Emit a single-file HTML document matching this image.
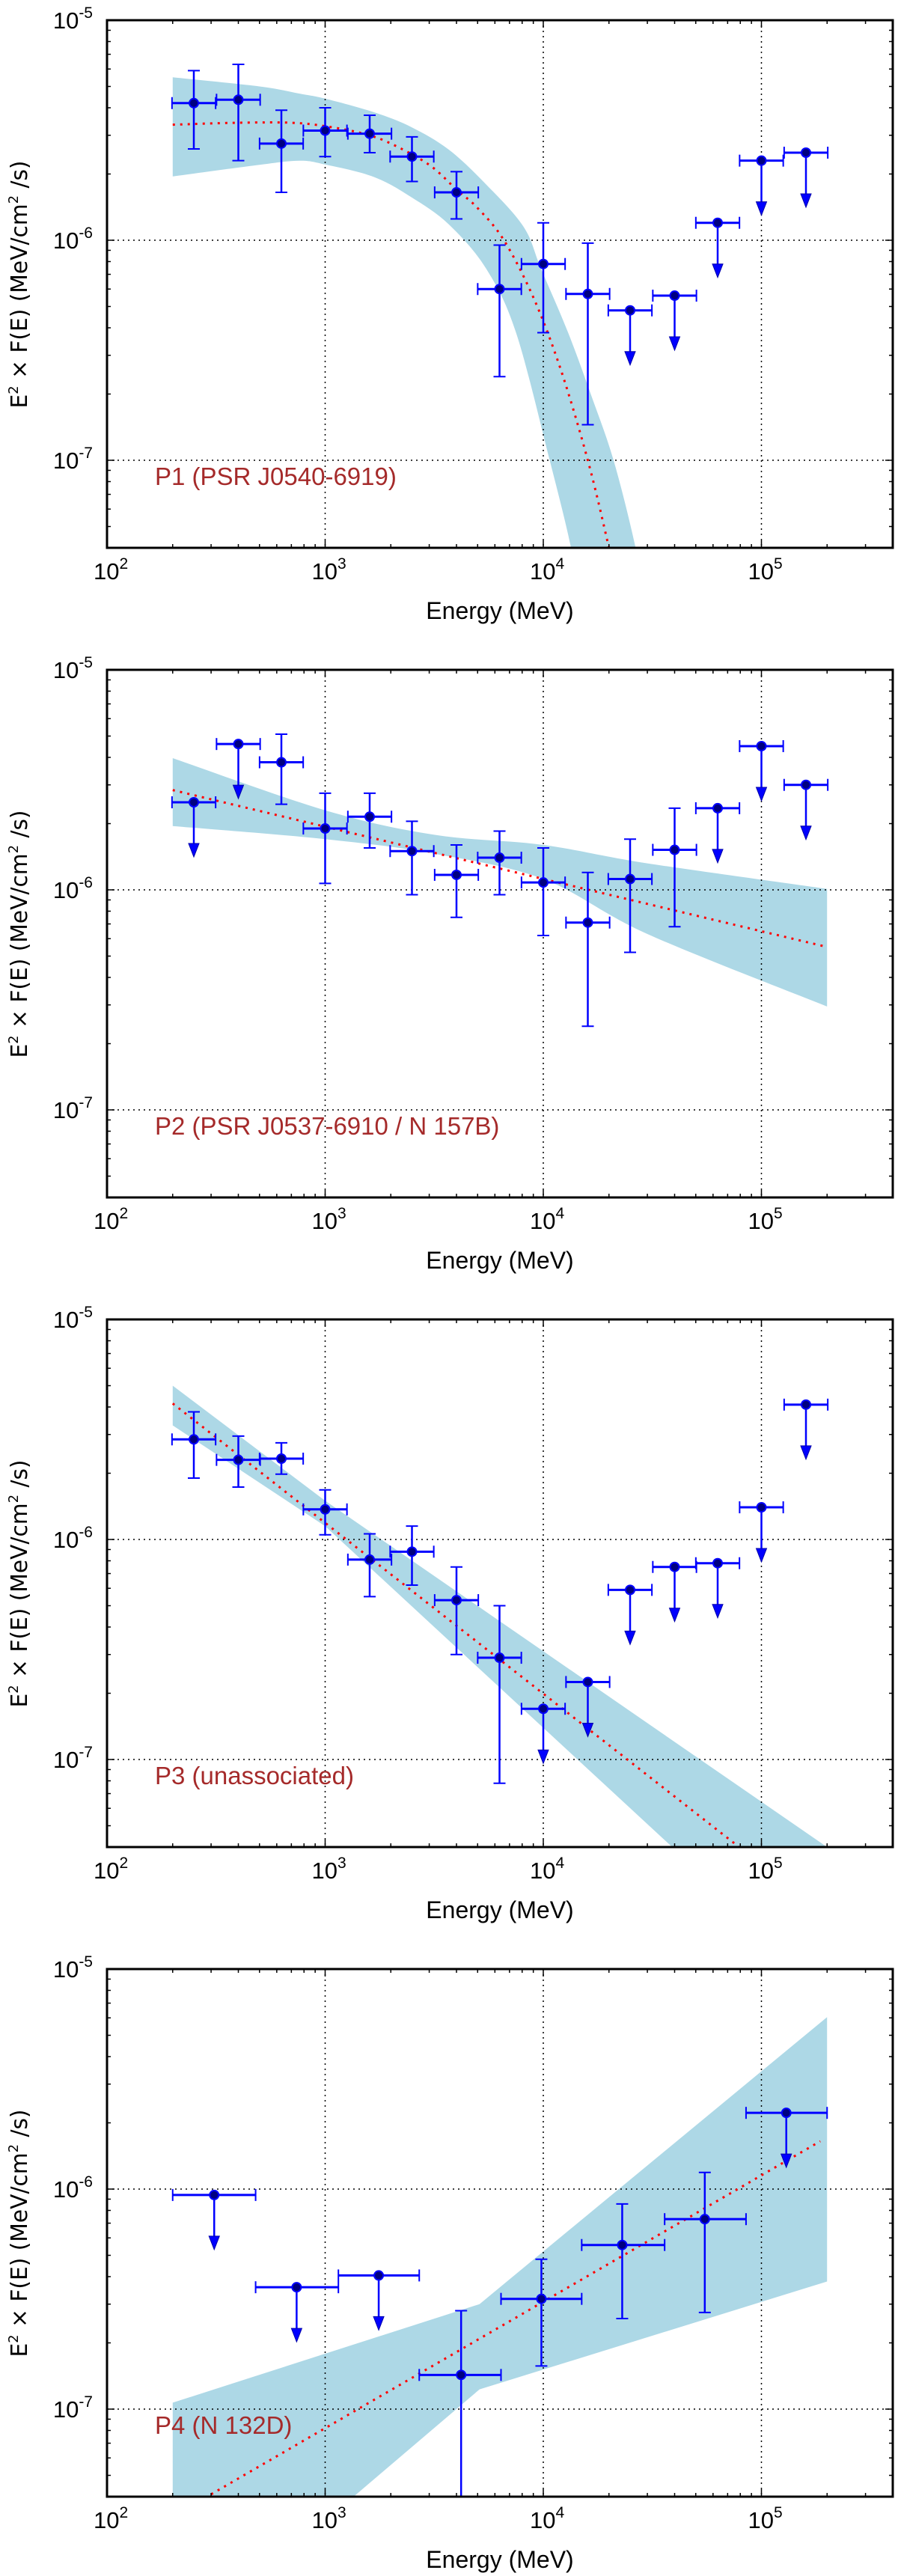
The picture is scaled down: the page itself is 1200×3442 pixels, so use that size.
<!DOCTYPE html>
<html><head><meta charset="utf-8"><style>
html,body{margin:0;padding:0;background:#fff;}
svg{display:block;}
</style></head><body>
<svg id="fig" width="1200" height="3442" viewBox="0 0 1200 3442" xmlns="http://www.w3.org/2000/svg"></svg>
<script>
// ---- shared bins ----
const binE = [250,400,630,1000,1600,2500,4000,6300,10000,16000,25000,40000,63000,100000,160000];
const yTickLabels = ["-5","-6","-7"];
const xTickLabels = ["2","3","4","5"];

// ---- P1 ----
const p1Flux = [4.2e-6,4.35e-6,2.75e-6,3.15e-6,3.05e-6,2.4e-6,1.65e-6,6.0e-7,7.8e-7,5.7e-7,4.8e-7,5.6e-7,1.2e-6,2.3e-6,2.5e-6];
const p1Lo = [2.6e-6,2.3e-6,1.65e-6,2.4e-6,2.5e-6,1.85e-6,1.25e-6,2.4e-7,3.8e-7,1.45e-7,null,null,null,null,null];
const p1Hi = [5.9e-6,6.3e-6,3.9e-6,4.0e-6,3.7e-6,2.95e-6,2.05e-6,9.5e-7,1.2e-6,9.7e-7,null,null,null,null,null];
const p1ModelE = [200,400,700,1000,1500,2000,3000,4000,5000,6600,9000,12000,16000,20000,22000];
const p1ModelF = [3.35e-6,3.42e-6,3.42e-6,3.3e-6,3.05e-6,2.75e-6,2.2e-6,1.7e-6,1.4e-6,1e-6,5.5e-7,2.6e-7,1e-7,4e-8,2.5e-8];
const p1UpE = [200,500,760,1000,1670,2480,3690,5480,8130,9770,13000,16500,21000,26500,30000];
const p1UpF = [5.5e-6,5.0e-6,4.64e-6,4.4e-6,3.82e-6,3.27e-6,2.58e-6,1.79e-6,1.15e-6,7.4e-7,3.8e-7,2e-7,1e-7,4e-8,2e-8];
const p1LoE = [200,500,760,1000,1670,2480,3690,5480,7500,10700,13400,15000];
const p1LoF = [1.95e-6,2.2e-6,2.3e-6,2.21e-6,1.94e-6,1.57e-6,1.18e-6,7.4e-7,3.8e-7,1e-7,4e-8,2e-8];

// ---- P2 ----
const p2Flux = [2.5e-6,4.6e-6,3.8e-6,1.9e-6,2.15e-6,1.5e-6,1.17e-6,1.4e-6,1.08e-6,7.1e-7,1.12e-6,1.52e-6,2.35e-6,4.5e-6,3.0e-6];
const p2Lo = [null,null,2.45e-6,1.07e-6,1.55e-6,9.5e-7,7.5e-7,9.5e-7,6.2e-7,2.4e-7,5.2e-7,6.8e-7,null,null,null];
const p2Hi = [null,null,5.1e-6,2.75e-6,2.75e-6,2.05e-6,1.6e-6,1.85e-6,1.55e-6,1.2e-6,1.7e-6,2.35e-6,null,null,null];
const p2ModelE = [200,200000];
const p2ModelF = [2.84e-6,5.5e-7];
const p2UpE = [200,1000,3160,10000,30000,200000];
const p2UpF = [3.97e-6,2.3e-6,1.78e-6,1.6e-6,1.32e-6,1.01e-6];
const p2LoE = [200,1000,3160,10000,30000,200000];
const p2LoF = [1.95e-6,1.7e-6,1.46e-6,1.12e-6,6.3e-7,2.95e-7];

// ---- P3 ----
const p3Flux = [2.85e-6,2.3e-6,2.33e-6,1.37e-6,8.1e-7,8.8e-7,5.3e-7,2.9e-7,1.7e-7,2.25e-7,5.9e-7,7.5e-7,7.8e-7,1.4e-6,4.1e-6];
const p3Lo = [1.9e-6,1.73e-6,1.98e-6,1.05e-6,5.5e-7,6.2e-7,3.0e-7,7.8e-8,null,null,null,null,null,null,null];
const p3Hi = [3.8e-6,2.95e-6,2.75e-6,1.68e-6,1.06e-6,1.15e-6,7.5e-7,5.0e-7,null,null,null,null,null,null,null];
const p3ModelE = [200,79000];
const p3ModelF = [4.15e-6,4e-8];
const p3UpE = [200,1000,200000];
const p3UpF = [5e-6,1.5e-6,4e-8];
const p3LoE = [200,1000,39000];
const p3LoF = [3.3e-6,1.15e-6,4e-8];

// ---- P4 ----
const p4BinE = [310,740,1760,4200,9800,23000,55000,130000];
const p4EdgeLo = [200,480,1150,2700,6400,15000,36000,85000];
const p4EdgeHi = [480,1150,2700,6400,15000,36000,85000,200000];
const p4Flux = [9.4e-7,3.58e-7,4.05e-7,1.43e-7,3.17e-7,5.57e-7,7.3e-7,2.22e-6];
const p4Lo = [null,null,null,1e-8,1.57e-7,2.58e-7,2.75e-7,null];
const p4Hi = [null,null,null,2.8e-7,4.8e-7,8.56e-7,1.19e-6,null];
const p4ModelE = [300,186000];
const p4ModelF = [4.1e-8,1.65e-6];
const p4UpE = [200,5100,200000];
const p4UpF = [1.07e-7,3.0e-7,6.05e-6];
const p4LoE = [200,200,1350,5100,200000];
const p4LoF = [4e-8,4e-8,4e-8,1.23e-7,3.8e-7];

const NS = "http://www.w3.org/2000/svg";
const svg = document.getElementById('fig');
const X0 = 143, X1 = 1193, LXMIN = 2, LXMAX = Math.log10(4e5);
const TOP = 27, BOT = 732, LYMAX = -5, LYMIN = Math.log10(4e-8);
function xs(E){ return X0 + (Math.log10(E)-LXMIN)/(LXMAX-LXMIN)*(X1-X0); }
function ysF(off){ return F => off + TOP + (LYMAX-Math.log10(F))/(LYMAX-LYMIN)*(BOT-TOP); }
function mk(tag, attrs, parent){ const e=document.createElementNS(NS,tag); for(const k in attrs) e.setAttribute(k,attrs[k]); (parent||svg).appendChild(e); return e; }
function crSeg(p){
  let d='';
  for(let i=0;i<p.length-1;i++){
    const p0=p[Math.max(0,i-1)], p1=p[i], p2=p[i+1], p3=p[Math.min(p.length-1,i+2)];
    const c1=[p1[0]+(p2[0]-p0[0])/6, p1[1]+(p2[1]-p0[1])/6];
    const c2=[p2[0]-(p3[0]-p1[0])/6, p2[1]-(p3[1]-p1[1])/6];
    d+=' C'+c1[0].toFixed(1)+','+c1[1].toFixed(1)+' '+c2[0].toFixed(1)+','+c2[1].toFixed(1)+' '+p2[0].toFixed(1)+','+p2[1].toFixed(1);
  }
  return d;
}
function linSeg(p){ return p.slice(1).map(q=>' L'+q[0].toFixed(1)+','+q[1].toFixed(1)).join(''); }

function panel(idx, off, cfg){
  const ys = ysF(off);
  const seg = cfg.smooth ? crSeg : linSeg;
  const g = mk('g',{});
  
  
  const cid = 'clip'+idx;
  const cp = mk('clipPath',{id:cid}, g);
  mk('rect',{x:X0,y:off+TOP,width:X1-X0,height:BOT-TOP}, cp);
  const plot = mk('g',{'clip-path':'url(#'+cid+')'}, g);
  const up = cfg.upE.map((e,i)=>[xs(e), ys(cfg.upF[i])]);
  const lo = cfg.loE.map((e,i)=>[xs(e), ys(cfg.loF[i])]).reverse();
  const d = 'M'+up[0][0].toFixed(1)+','+up[0][1].toFixed(1)+seg(up)+' L'+lo[0][0].toFixed(1)+','+lo[0][1].toFixed(1)+seg(lo)+' Z';
  const band = mk('path',{d:d, fill:'#add8e6', stroke:'none'}, plot);
  
  
  [1e3,1e4,1e5].forEach(v=>{ const l=mk('line',{x1:xs(v),x2:xs(v),y1:off+TOP,y2:off+BOT,stroke:'#000','stroke-width':1.5,'stroke-dasharray':'2 5'}, plot);
      });
  [1e-6,1e-7].forEach(v=>{ const l=mk('line',{x1:X0,x2:X1,y1:ys(v),y2:ys(v),stroke:'#000','stroke-width':1.5,'stroke-dasharray':'2 5'}, plot);
      });
  const mpts = cfg.mE.map((e,i)=>[xs(e), ys(cfg.mF[i])]);
  const md = 'M'+mpts[0][0].toFixed(1)+','+mpts[0][1].toFixed(1)+seg(mpts);
  const model = mk('path',{d:md, fill:'none', stroke:'#ff0000','stroke-width':3,'stroke-dasharray':'3 7'}, plot);
  
  
  const blue = '#0000ff';
  cfg.E.forEach((e,i)=>{
    const pg = mk('g',{}, plot);
    
    
    const x = xs(e), y = ys(cfg.F[i]);
    const xa = xs(cfg.eLo[i]), xb = xs(cfg.eHi[i]);
    mk('line',{x1:xa,x2:xb,y1:y,y2:y,stroke:blue,'stroke-width':3}, pg);
    mk('line',{x1:xa,x2:xa,y1:y-8,y2:y+8,stroke:blue,'stroke-width':2}, pg);
    mk('line',{x1:xb,x2:xb,y1:y-8,y2:y+8,stroke:blue,'stroke-width':2}, pg);
    if(cfg.lo[i]===null){
      mk('line',{x1:x,x2:x,y1:y,y2:y+58,stroke:blue,'stroke-width':2.5}, pg);
      mk('polygon',{points:(x-7)+','+(y+55)+' '+(x+7)+','+(y+55)+' '+x+','+(y+73), fill:blue, stroke:'#0000aa','stroke-width':1}, pg);
    } else {
      const y1 = ys(cfg.hi[i]), y2 = ys(cfg.lo[i]);
      mk('line',{x1:x,x2:x,y1:y1,y2:y2,stroke:blue,'stroke-width':2.5}, pg);
      mk('line',{x1:x-8,x2:x+8,y1:y1,y2:y1,stroke:blue,'stroke-width':2}, pg);
      mk('line',{x1:x-8,x2:x+8,y1:y2,y2:y2,stroke:blue,'stroke-width':2}, pg);
    }
    mk('circle',{cx:x,cy:y,r:6,fill:'#000080',stroke:blue,'stroke-width':2}, pg);
  });
  const tk = mk('g',{stroke:'#000','stroke-width':1.5}, g);
   
  for(let dd=2; dd<=5; dd++) for(let m=1;m<=9;m++){
    const v=m*Math.pow(10,dd); if(Math.log10(v)>LXMAX) continue; const x=xs(v); const L = m===1?10:5;
    mk('line',{x1:x,x2:x,y1:off+BOT,y2:off+BOT-L}, tk); mk('line',{x1:x,x2:x,y1:off+TOP,y2:off+TOP+L}, tk);
  }
  for(let dd=-8; dd<=-6; dd++) for(let m=1;m<=9;m++){
    const v=m*Math.pow(10,dd); const lv=Math.log10(v); if(lv<LYMIN-1e-9||lv>LYMAX+1e-9) continue; const y=ys(v); const L=m===1?10:5;
    mk('line',{x1:X0,x2:X0+L,y1:y,y2:y}, tk); mk('line',{x1:X1,x2:X1-L,y1:y,y2:y}, tk);
  }
  const fr = mk('rect',{x:X0,y:off+TOP,width:X1-X0,height:BOT-TOP,fill:'none',stroke:'#000','stroke-width':3}, g);
   
  yTickLabels.forEach(s=>{
    const t = mk('text',{x:124,y:ys(Math.pow(10,+s))+11,'text-anchor':'end','font-family':'Liberation Sans, sans-serif','font-size':31,fill:'#000'}, g);
     
    t.appendChild(document.createTextNode('10'));
    const sp = mk('tspan',{dy:-14,'font-size':21}, t); sp.textContent = s;
  });
  xTickLabels.forEach(s=>{
    const x = xs(Math.pow(10,+s));
    const t = mk('text',{x:x-18,y:off+BOT+42,'font-family':'Liberation Sans, sans-serif','font-size':31,fill:'#000'}, g);
     
    t.appendChild(document.createTextNode('10'));
    const sp = mk('tspan',{dy:-14,'font-size':21}, t); sp.textContent = s;
  });
  const xl = mk('text',{x:668,y:off+827,'text-anchor':'middle','font-family':'Liberation Sans Narrow, Liberation Sans, sans-serif','font-size':32,fill:'#000'}, g);
   
  xl.textContent = 'Energy (MeV)';
  const yl = mk('text',{transform:'translate(36,'+(off+380)+') rotate(-90)','text-anchor':'middle','font-family':'DejaVu Sans, sans-serif','font-size':30,fill:'#000',textLength:331,lengthAdjust:'spacingAndGlyphs'}, g);
   
  yl.appendChild(document.createTextNode('E'));
  const s1 = mk('tspan',{dy:-12,'font-size':18}, yl); s1.textContent='2';
  const s2 = mk('tspan',{dy:12}, yl); s2.textContent=' \u00d7 F(E)  (MeV/cm';
  const s3 = mk('tspan',{dy:-12,'font-size':18}, yl); s3.textContent='2';
  const s4 = mk('tspan',{dy:12}, yl); s4.textContent=' /s)';
  const an = mk('text',{x:207,y:off+648,'font-family':'Liberation Sans Narrow, Liberation Sans, sans-serif','font-size':33,fill:'#a52a2a'}, g);
   
  an.textContent = cfg.label;
}
function edges(E){ return {lo:E.map(e=>e/Math.pow(10,0.1)), hi:E.map(e=>e*Math.pow(10,0.1))}; }
const ed = edges(binE);
panel(1, 0, {smooth:true,E:binE,eLo:ed.lo,eHi:ed.hi,F:p1Flux,lo:p1Lo,hi:p1Hi,mE:p1ModelE,mF:p1ModelF,upE:p1UpE,upF:p1UpF,loE:p1LoE,loF:p1LoF,label:'P1 (PSR J0540-6919)'});
panel(2, 868, {smooth:true,E:binE,eLo:ed.lo,eHi:ed.hi,F:p2Flux,lo:p2Lo,hi:p2Hi,mE:p2ModelE,mF:p2ModelF,upE:p2UpE,upF:p2UpF,loE:p2LoE,loF:p2LoF,label:'P2 (PSR J0537-6910 / N 157B)'});
panel(3, 1736, {smooth:false,E:binE,eLo:ed.lo,eHi:ed.hi,F:p3Flux,lo:p3Lo,hi:p3Hi,mE:p3ModelE,mF:p3ModelF,upE:p3UpE,upF:p3UpF,loE:p3LoE,loF:p3LoF,label:'P3 (unassociated)'});
panel(4, 2604, {smooth:false,E:p4BinE,eLo:p4EdgeLo,eHi:p4EdgeHi,F:p4Flux,lo:p4Lo,hi:p4Hi,mE:p4ModelE,mF:p4ModelF,upE:p4UpE,upF:p4UpF,loE:p4LoE,loF:p4LoF,label:'P4 (N 132D)'});
</script>
</body></html>
